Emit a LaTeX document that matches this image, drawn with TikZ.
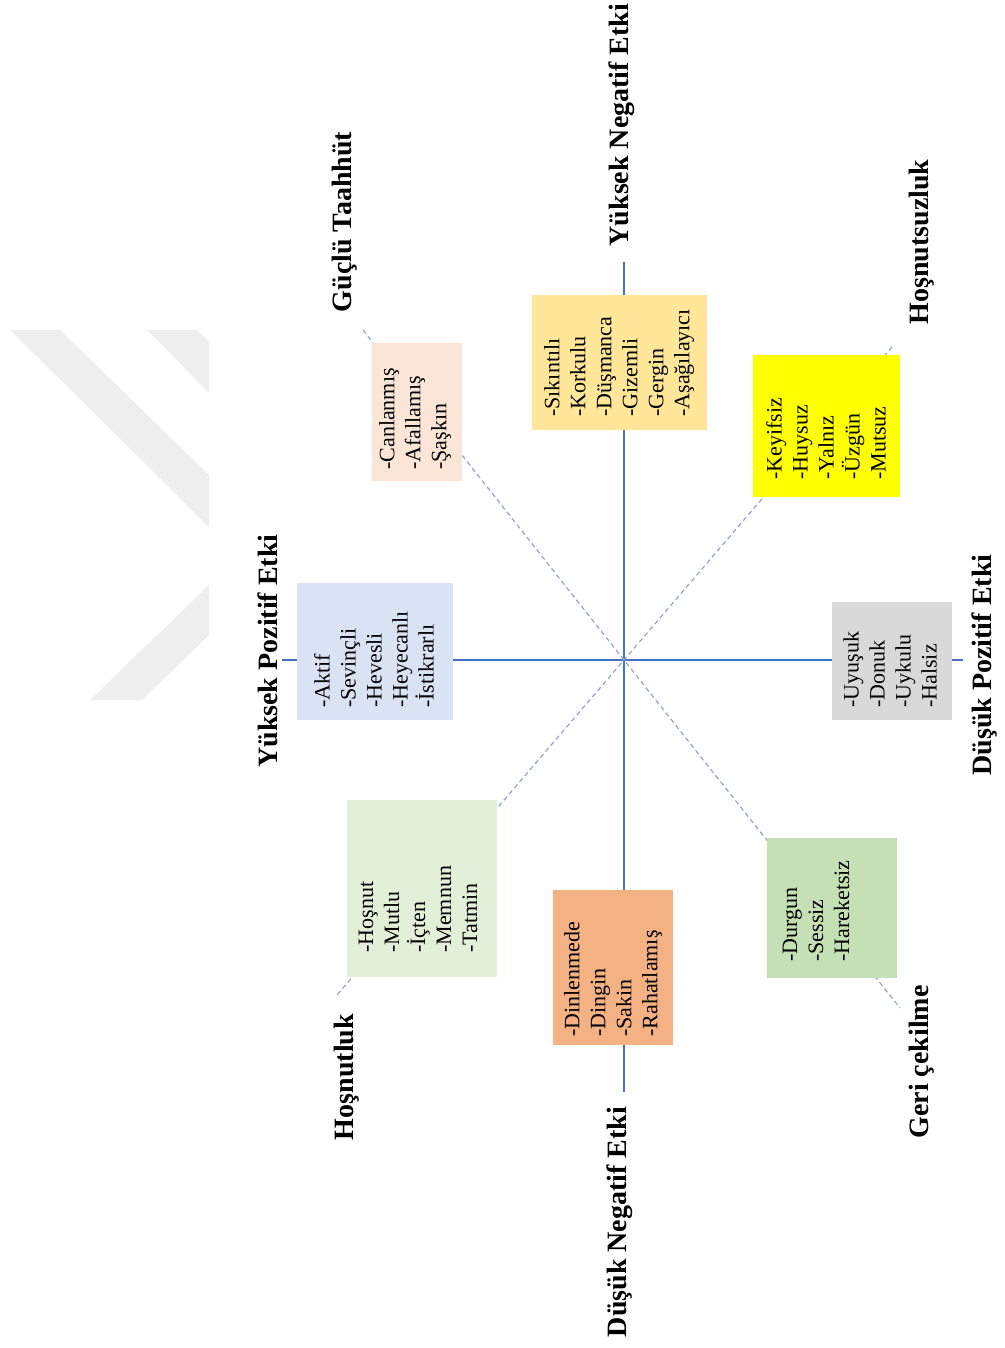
\documentclass[tikz,border=0pt]{standalone}
\usepackage{fontspec}
\setmainfont{Liberation Serif}
\definecolor{axisblue}{HTML}{4472C4}
\definecolor{diagblue}{HTML}{8FA6C8}
\definecolor{emblemgray}{HTML}{EEEEEE}
\definecolor{cAktif}{HTML}{DAE3F3}
\definecolor{cCanl}{HTML}{FBE5D6}
\definecolor{cSik}{HTML}{FFE699}
\definecolor{cKey}{HTML}{FFFF00}
\definecolor{cUyu}{HTML}{D9D9D9}
\definecolor{cDur}{HTML}{C5E0B4}
\definecolor{cDin}{HTML}{F4B183}
\definecolor{cHos}{HTML}{E2F0D9}
\begin{document}
\begin{tikzpicture}[x=0.75pt,y=-0.75pt,
  axis/.style={draw=axisblue, line width=0.9pt},
  diag/.style={draw=diagblue, line width=0.9pt, dash pattern=on 3.5pt off 2.5pt},
  panel/.style={rectangle, draw=none, inner sep=0pt},
  words/.style={rotate=90, anchor=west, align=left, inner sep=0pt,
    font=\fontsize{16.5}{19.5}\selectfont},
  pole/.style={rotate=90, inner sep=0pt, font=\fontsize{21}{25}\selectfont\bfseries}]
\useasboundingbox (0,0) rectangle (1004,1348);

% faint emblem in the upper left
\fill[emblemgray] (10,330) -- (60,330) -- (209,475) -- (209,527) -- cycle;
\fill[emblemgray] (147,330) -- (197,330) -- (209,342) -- (209,393) -- cycle;
\fill[emblemgray] (90,700) -- (142,700) -- (209,635) -- (209,585) -- cycle;

% axes
\coordinate (o) at (624,660);
\coordinate (w) at (282,660);
\coordinate (e) at (963,660);
\coordinate (n) at (624,262);
\coordinate (s) at (624,1092);
\coordinate (nw) at (363,330);
\coordinate (se) at (900,1008);
\coordinate (ne) at (892,347);
\coordinate (sw) at (337,995);
\draw[axis] (w) -- (o) -- (e);
\draw[axis] (n) -- (o) -- (s);
\draw[diag] (nw) -- (o) -- (se);
\draw[diag] (ne) -- (o) -- (sw);

% coloured panels
\node[panel, fill=cAktif, minimum width=117pt,   minimum height=102.75pt] (bAktif) at (375,651.5) {};
\node[panel, fill=cCanl,  minimum width=67.5pt,  minimum height=103.5pt]  (bCanl)  at (417,412) {};
\node[panel, fill=cSik,   minimum width=131.25pt,minimum height=101.25pt] (bSik)   at (619.5,362.5) {};
\node[panel, fill=cKey,   minimum width=110.25pt,minimum height=106.5pt]  (bKey)   at (826.5,426) {};
\node[panel, fill=cUyu,   minimum width=90pt,    minimum height=88.5pt]   (bUyu)   at (892,661) {};
\node[panel, fill=cDur,   minimum width=97.5pt,  minimum height=105pt]    (bDur)   at (832,908) {};
\node[panel, fill=cDin,   minimum width=90pt,    minimum height=116.25pt] (bDin)   at (613,967.5) {};
\node[panel, fill=cHos,   minimum width=112.5pt, minimum height=132.75pt] (bHos)   at (422,888.5) {};

% word lists
\node[words] (tAktif) at (374,708) {-Aktif\\-Sevinçli\\-Hevesli\\-Heyecanlı\\-İstikrarlı};
\node[words] (tCanl)  at (415,470) {-Canlanmış\\-Afallamış\\-Şaşkın};
\node[words] (tSik)   at (619,417) {-Sıkıntılı\\-Korkulu\\-Düşmanca\\-Gizemli\\-Gergin\\-Aşağılayıcı};
\node[words] (tKey)   at (826,480) {-Keyifsiz\\-Huysuz\\-Yalnız\\-Üzgün\\-Mutsuz};
\node[words] (tUyu)   at (890,708) {-Uyuşuk\\-Donuk\\-Uykulu\\-Halsiz};
\node[words] (tDur)   at (816,962) {-Durgun\\-Sessiz\\-Hareketsiz};
\node[words] (tDin)   at (613,1037) {-Dinlenmede\\-Dingin\\-Sakin\\-Rahatlamış};
\node[words] (tHos)   at (418,953) {-Hoşnut\\-Mutlu\\-İçten\\-Memnun\\-Tatmin};

% pole labels
\node[pole] (lYPE) at (268,651)  {Yüksek Pozitif Etki};
\node[pole] (lGT)  at (345,222)  {Güçlü Taahhüt};
\node[pole] (lYNE) at (622,125)  {Yüksek Negatif Etki};
\node[pole] (lHsz) at (922,242)  {Hoşnutsuzluk};
\node[pole] (lDPE) at (985,665)  {Düşük Pozitif Etki};
\node[pole] (lGC)  at (922,1062) {Geri çekilme};
\node[pole] (lDNE) at (620,1222) {Düşük Negatif Etki};
\node[pole] (lHs)  at (347,1077) {Hoşnutluk};
\end{tikzpicture}
\end{document}
